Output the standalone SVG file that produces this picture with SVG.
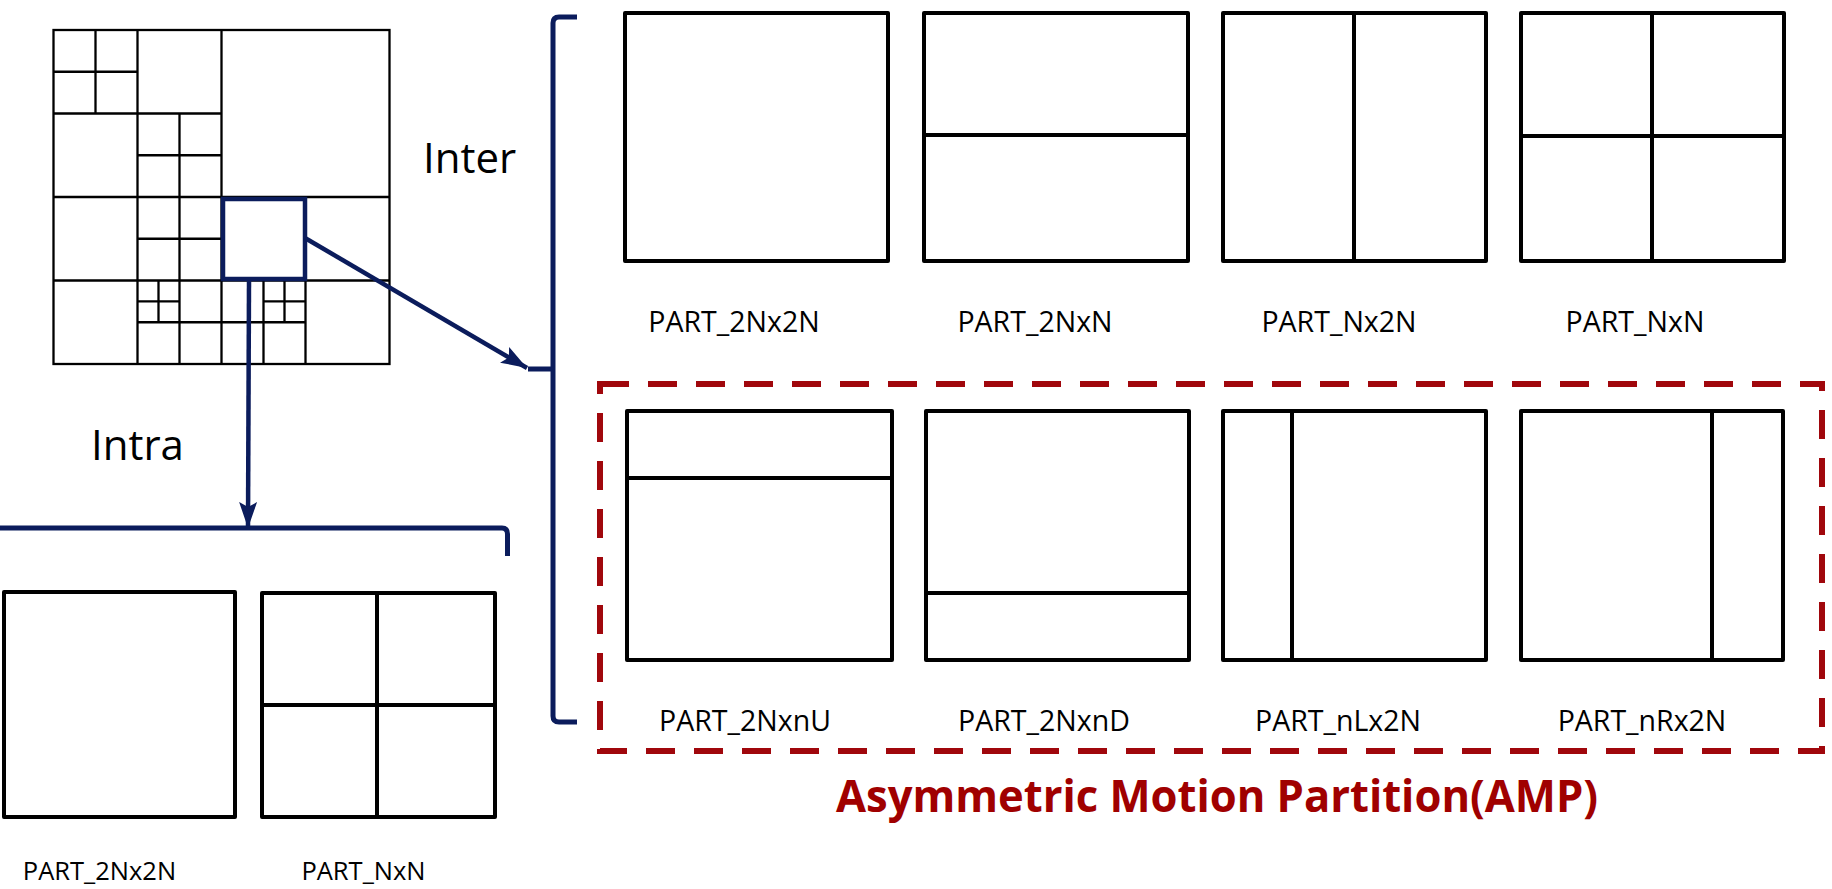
<svg xmlns="http://www.w3.org/2000/svg" width="1832" height="889" viewBox="0 0 1832 889">
<defs>
<style>
.qt{fill:none;stroke:#000;stroke-width:2.3}
.bx{fill:none;stroke:#000;stroke-width:4;stroke-linejoin:round}
.sp{stroke:#000;stroke-width:4}
.nv{fill:none;stroke:#0b1c5c;stroke-width:4.5;stroke-linecap:butt}
.br{fill:none;stroke:#0b1c5c;stroke-width:5}
.lbl{font-family:"Open Sans","Liberation Sans",sans-serif;font-size:28.5px;fill:#000;text-anchor:middle}
.lbs{font-family:"Open Sans","Liberation Sans",sans-serif;font-size:25.5px;fill:#000;text-anchor:middle}
.big{font-family:"Open Sans","Liberation Sans",sans-serif;font-size:42px;fill:#000}
.amp{fill:none;stroke:#a0070c;stroke-width:6;stroke-dasharray:29 19}
</style>
<marker id="arr" markerUnits="userSpaceOnUse" markerWidth="28" markerHeight="20" refX="26" refY="9" orient="auto">
<path d="M0,0 L26,9 L0,18 L5,9 z" fill="#0b1c5c"/>
</marker>
</defs>
<rect width="1832" height="889" fill="#fff"/>

<g id="quadtree">
<rect class="qt" x="53.5" y="30" width="336" height="334"/>
<path class="qt" d="M221.5,30V364 M53.5,197H389.5
M137.5,30V197 M53.5,113.5H221.5
M95.5,30V113.5 M53.5,71.75H137.5
M179.5,113.5V197 M137.5,155.25H221.5
M137.5,197V364 M53.5,280.5H221.5
M179.5,197V280.5 M137.5,238.75H221.5
M179.5,280.5V364 M137.5,322.25H221.5
M158.5,280.5V322.25 M137.5,301.4H179.5
M305.5,197V364 M221.5,280.5H389.5
M263.5,280.5V364 M221.5,322.25H305.5
M284.5,280.5V322.25 M263.5,301.4H305.5"/>
<rect x="223" y="199" width="82" height="80" fill="none" stroke="#0b1c5c" stroke-width="4.5"/>
</g>

<g id="connectors">
<line class="nv" x1="305" y1="238" x2="527" y2="368" marker-end="url(#arr)"/>
<line class="nv" x1="249" y1="281" x2="248" y2="528" marker-end="url(#arr)"/>
<path class="br" d="M577,17H559Q553,17 553,23V716Q553,722 559,722H577 M528,369H553"/>
<path class="br" d="M0,528H502Q507.5,528 507.5,534V556"/>
</g>

<g id="label-inter"><text class="big" x="423" y="173">Inter</text></g>
<g id="label-intra"><text class="big" x="91" y="460">Intra</text></g>

<g id="intra-2Nx2N">
<rect class="bx" x="4" y="592" width="231" height="225"/>
<text class="lbs" x="99.5" y="880">PART_2Nx2N</text>
</g>
<g id="intra-NxN">
<rect class="bx" x="262" y="593" width="233" height="224"/>
<path class="sp" d="M377,593V817 M262,705H495"/>
<text class="lbs" x="363.5" y="880">PART_NxN</text>
</g>

<g id="inter-2Nx2N">
<rect class="bx" x="625" y="13" width="263" height="248"/>
<text class="lbl" x="734" y="332">PART_2Nx2N</text>
</g>
<g id="inter-2NxN">
<rect class="bx" x="924" y="13" width="264" height="248"/>
<path class="sp" d="M924,135H1188"/>
<text class="lbl" x="1035" y="332">PART_2NxN</text>
</g>
<g id="inter-Nx2N">
<rect class="bx" x="1223" y="13" width="263" height="248"/>
<path class="sp" d="M1354,13V261"/>
<text class="lbl" x="1339" y="332">PART_Nx2N</text>
</g>
<g id="inter-NxN">
<rect class="bx" x="1521" y="13" width="263" height="248"/>
<path class="sp" d="M1652,13V261 M1521,136H1784"/>
<text class="lbl" x="1635" y="332">PART_NxN</text>
</g>

<g id="amp">
<rect class="amp" x="600" y="384" width="1222" height="367"/>
<text x="836" y="812" textLength="762" lengthAdjust="spacingAndGlyphs" font-family="'Open Sans','Liberation Sans',sans-serif" font-weight="bold" font-size="44" fill="#a00000">Asymmetric Motion Partition(AMP)</text>
</g>
<g id="inter-2NxnU">
<rect class="bx" x="627" y="411" width="265" height="249"/>
<path class="sp" d="M627,478H892"/>
<text class="lbl" x="745" y="731">PART_2NxnU</text>
</g>
<g id="inter-2NxnD">
<rect class="bx" x="926" y="411" width="263" height="249"/>
<path class="sp" d="M926,593H1189"/>
<text class="lbl" x="1044" y="731">PART_2NxnD</text>
</g>
<g id="inter-nLx2N">
<rect class="bx" x="1223" y="411" width="263" height="249"/>
<path class="sp" d="M1292,411V660"/>
<text class="lbl" x="1338" y="731">PART_nLx2N</text>
</g>
<g id="inter-nRx2N">
<rect class="bx" x="1521" y="411" width="262" height="249"/>
<path class="sp" d="M1712,411V660"/>
<text class="lbl" x="1642" y="731">PART_nRx2N</text>
</g>
</svg>
